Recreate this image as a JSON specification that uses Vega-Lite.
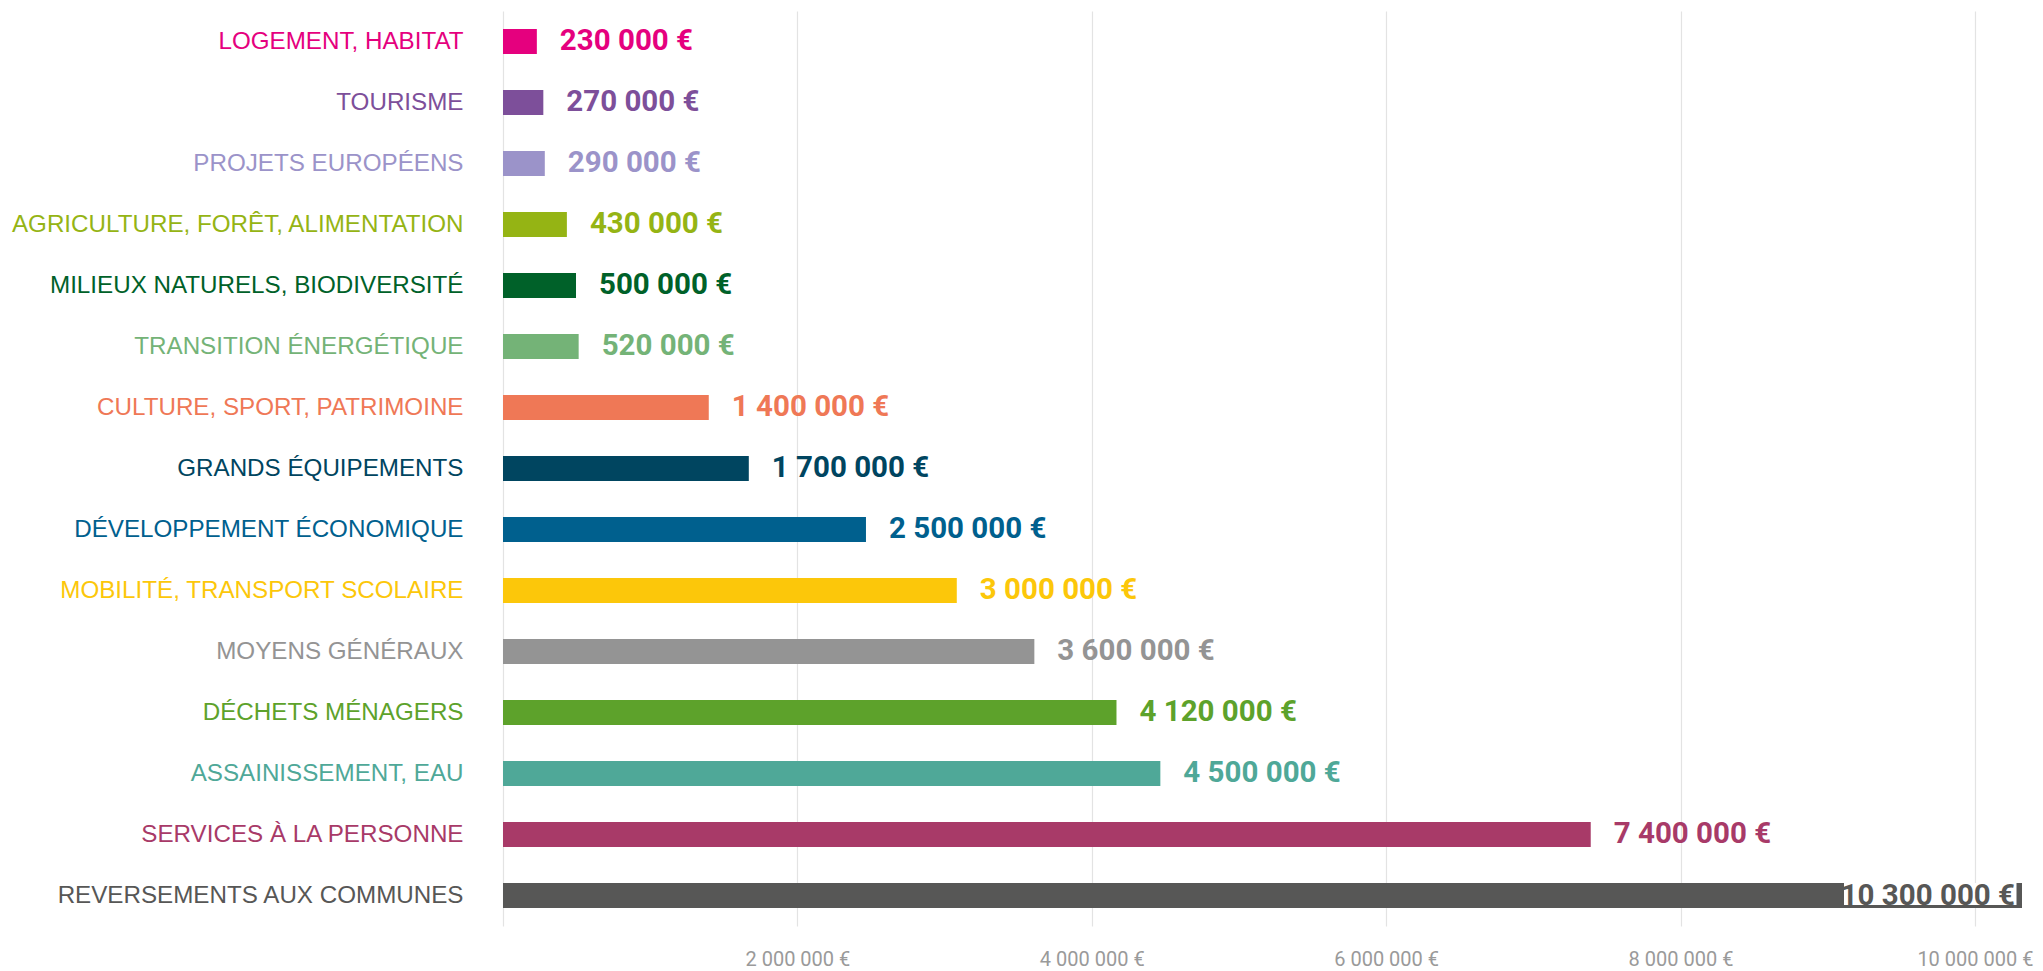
{
  "$schema": "https://vega.github.io/schema/vega-lite/v6.json",
  "autosize": {"type": "none"},
  "width": 1519,
  "height": 915,
  "padding": {"left": 503, "top": 11, "right": 21, "bottom": 45},
  "background": "white",
  "config": {"view": {"stroke": null}},
  "data": {"values": [
    {"cat": "LOGEMENT, HABITAT", "value": 230000, "label": "230 000 €"},
    {"cat": "TOURISME", "value": 274000, "label": "270 000 €"},
    {"cat": "PROJETS EUROPÉENS", "value": 284000, "label": "290 000 €"},
    {"cat": "AGRICULTURE, FORÊT, ALIMENTATION", "value": 434000, "label": "430 000 €"},
    {"cat": "MILIEUX NATURELS, BIODIVERSITÉ", "value": 496000, "label": "500 000 €"},
    {"cat": "TRANSITION ÉNERGÉTIQUE", "value": 514000, "label": "520 000 €"},
    {"cat": "CULTURE, SPORT, PATRIMOINE", "value": 1398000, "label": "1 400 000 €"},
    {"cat": "GRANDS ÉQUIPEMENTS", "value": 1670000, "label": "1 700 000 €"},
    {"cat": "DÉVELOPPEMENT ÉCONOMIQUE", "value": 2466000, "label": "2 500 000 €"},
    {"cat": "MOBILITÉ, TRANSPORT SCOLAIRE", "value": 3083000, "label": "3 000 000 €"},
    {"cat": "MOYENS GÉNÉRAUX", "value": 3610000, "label": "3 600 000 €"},
    {"cat": "DÉCHETS MÉNAGERS", "value": 4168000, "label": "4 120 000 €"},
    {"cat": "ASSAINISSEMENT, EAU", "value": 4466000, "label": "4 500 000 €"},
    {"cat": "SERVICES À LA PERSONNE", "value": 7390000, "label": "7 400 000 €"},
    {"cat": "REVERSEMENTS AUX COMMUNES", "value": 10320000, "label": "10 300 000 €"}
  ]},
  "encoding": {
    "y": {
      "field": "cat", "type": "nominal", "sort": null,
      "scale": {"paddingInner": 0.59, "paddingOuter": 0.295},
      "axis": {
        "title": null, "domain": false, "ticks": false, "labelPadding": 40,
        "labelFont": "Liberation Sans", "labelFontSize": 24.2, "labelLimit": 600,
        "labelColor": {"expr": "{'LOGEMENT, HABITAT':'#E5007E','TOURISME':'#7D4F9A','PROJETS EUROPÉENS':'#9B93C9','AGRICULTURE, FORÊT, ALIMENTATION':'#95B414','MILIEUX NATURELS, BIODIVERSITÉ':'#006129','TRANSITION ÉNERGÉTIQUE':'#74B377','CULTURE, SPORT, PATRIMOINE':'#EF7856','GRANDS ÉQUIPEMENTS':'#004560','DÉVELOPPEMENT ÉCONOMIQUE':'#00608E','MOBILITÉ, TRANSPORT SCOLAIRE':'#FCC70A','MOYENS GÉNÉRAUX':'#949494','DÉCHETS MÉNAGERS':'#5DA22B','ASSAINISSEMENT, EAU':'#4FA898','SERVICES À LA PERSONNE':'#A83A68','REVERSEMENTS AUX COMMUNES':'#575756'}[datum.value]"}
      }
    },
    "color": {
      "field": "cat", "type": "nominal", "legend": null,
      "scale": {
        "domain": ["LOGEMENT, HABITAT", "TOURISME", "PROJETS EUROPÉENS", "AGRICULTURE, FORÊT, ALIMENTATION", "MILIEUX NATURELS, BIODIVERSITÉ", "TRANSITION ÉNERGÉTIQUE", "CULTURE, SPORT, PATRIMOINE", "GRANDS ÉQUIPEMENTS", "DÉVELOPPEMENT ÉCONOMIQUE", "MOBILITÉ, TRANSPORT SCOLAIRE", "MOYENS GÉNÉRAUX", "DÉCHETS MÉNAGERS", "ASSAINISSEMENT, EAU", "SERVICES À LA PERSONNE", "REVERSEMENTS AUX COMMUNES"],
        "range": ["#E5007E", "#7D4F9A", "#9B93C9", "#95B414", "#006129", "#74B377", "#EF7856", "#004560", "#00608E", "#FCC70A", "#949494", "#5DA22B", "#4FA898", "#A83A68", "#575756"]
      }
    }
  },
  "layer": [
    {
      "mark": {"type": "bar"},
      "encoding": {
        "x": {
          "field": "value", "type": "quantitative",
          "scale": {"domain": [0, 10320000], "nice": false, "zero": true},
          "axis": {
            "title": null, "domain": false, "ticks": false,
            "values": [0, 2000000, 4000000, 6000000, 8000000, 10000000],
            "grid": true, "gridColor": "#e3e3e3", "gridWidth": 1.2,
            "labelPadding": 33, "labelBaseline": "middle", "labelFont": "Roboto", "labelFontSize": 20,
            "labelColor": "#9a9a9a", "labelFlush": false, "labelOverlap": false,
            "labelExpr": "datum.value == 0 ? '' : replace(format(datum.value, ','), regexp(',', 'g'), ' ') + ' €'"
          }
        }
      }
    },
    {
      "transform": [{"filter": "datum.value > 10000000"}],
      "mark": {"type": "bar", "color": "white", "xOffset": -178, "x2Offset": -5.5, "height": 22, "yOffset": -1.5},
      "encoding": {
        "x": {"field": "value", "type": "quantitative"},
        "x2": {"field": "value"},
        "color": {"value": "white"}
      }
    },
    {
      "transform": [{"filter": "datum.value <= 10000000"}],
      "mark": {"type": "text", "align": "left", "baseline": "middle", "dx": 23, "dy": -1, "font": "Roboto", "fontSize": 29.5, "fontWeight": "bold"},
      "encoding": {
        "x": {"field": "value", "type": "quantitative"},
        "text": {"field": "label"}
      }
    },
    {
      "transform": [{"filter": "datum.value > 10000000"}],
      "mark": {"type": "text", "align": "right", "baseline": "middle", "dx": -7, "dy": 0, "font": "Roboto", "fontSize": 29.5, "fontWeight": "bold"},
      "encoding": {
        "x": {"field": "value", "type": "quantitative"},
        "text": {"field": "label"}
      }
    }
  ]
}
